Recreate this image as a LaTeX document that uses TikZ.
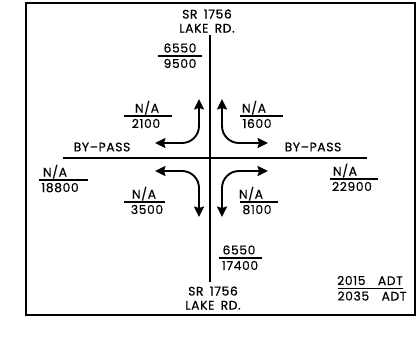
\documentclass[tikz,border=0pt]{standalone}
\usepackage{fontspec}
\setmainfont{Poppins}[FakeBold=0.4,LetterSpace=5,WordSpace=1.6]
\usetikzlibrary{arrows.meta,positioning}
\tikzset{
  frame/.style={draw,line width=1.6pt},
  road/.style={line width=1.6pt},
  turn/.style={<->,>={Stealth[length=10.5pt,width=10pt,inset=1.5pt]},line width=1.9pt,rounded corners=17pt},
  bar/.style={line width=1.4pt},
  vol/.style={anchor=base,inner sep=0pt,font=\fontsize{12.3}{14}\selectfont},
  roadname/.style={align=center,inner sep=0pt,font=\fontsize{12.3}{14}\selectfont},
}
\begin{document}
\begin{tikzpicture}[x=1pt,y=-1pt]
  \useasboundingbox (0,0) rectangle (417,340);
  \draw[frame] (26,3) rectangle (415,315);
  % Road names
  \node[roadname] (lakeN) at (207,21) {SR 1756\\LAKE RD.};
  \node[roadname] (lakeS) at (213,298) {SR 1756\\LAKE RD.};
  \node[roadname] (bypassW) at (102,147) {BY--PASS};
  \node[roadname] (bypassE) at (313,147) {BY--PASS};
  % Road lines
  \coordinate (rn) at (210,35);
  \coordinate (rs) at (210,282);
  \coordinate (rw) at (63,158);
  \coordinate (re) at (367,158);
  \draw[road] (rn) -- (rs);
  \draw[road] (rw) -- (re);
  % Turning movements
  \coordinate (nwL) at (155,143);  \coordinate (nwU) at (199,99);
  \coordinate (neR) at (268,143);  \coordinate (neU) at (222,99);
  \coordinate (swL) at (155,171);  \coordinate (swD) at (199,217);
  \coordinate (seR) at (268,171);  \coordinate (seD) at (222,217);
  \draw[turn] (nwL) -| (nwU);
  \draw[turn] (neR) -| (neU);
  \draw[turn] (swL) -| (swD);
  \draw[turn] (seR) -| (seD);
  % North leg
  \draw[bar] (158,56) -- (202,56);
  \node[vol] (upA) at (180,52.5) {6550};
  \node[vol] (upB) at (180,68) {9500};
  % NW turn
  \draw[bar] (124,116) -- (172,116);
  \node[vol] (nwA) at (147,112.5) {N/A};
  \node[vol] (nwB) at (146,128) {2100};
  % NE turn
  \draw[bar] (240,116) -- (283,116);
  \node[vol] (neA) at (254,112.5) {N/A};
  \node[vol] (neB) at (257,128) {1600};
  % West leg
  \draw[bar] (39,180) -- (88,180);
  \node[vol] (wA) at (55,176.5) {N/A};
  \node[vol] (wB) at (60,192) {18800};
  % SW turn
  \draw[bar] (124,202) -- (165,202);
  \node[vol] (swA) at (144,198.5) {N/A};
  \node[vol] (swB) at (147,214) {3500};
  % SE turn
  \draw[bar] (240,202) -- (278,202);
  \node[vol] (seA) at (251,198.5) {N/A};
  \node[vol] (seB) at (257,214) {8100};
  % East leg
  \draw[bar] (330,179) -- (378,179);
  \node[vol] (eA) at (345,175.5) {N/A};
  \node[vol] (eB) at (352,191) {22900};
  % South leg
  \draw[bar] (219,258) -- (262,258);
  \node[vol] (dnA) at (239,254.5) {6550};
  \node[vol] (dnB) at (240,270) {17400};
  % Legend
  \draw[bar] (338,288.5) -- (403,288.5);
  \node[vol] (keyA) at (370,285) {2015\ \ ADT};
  \node[vol] (keyB) at (372,300.5) {2035\ \ ADT};
\end{tikzpicture}
\end{document}
